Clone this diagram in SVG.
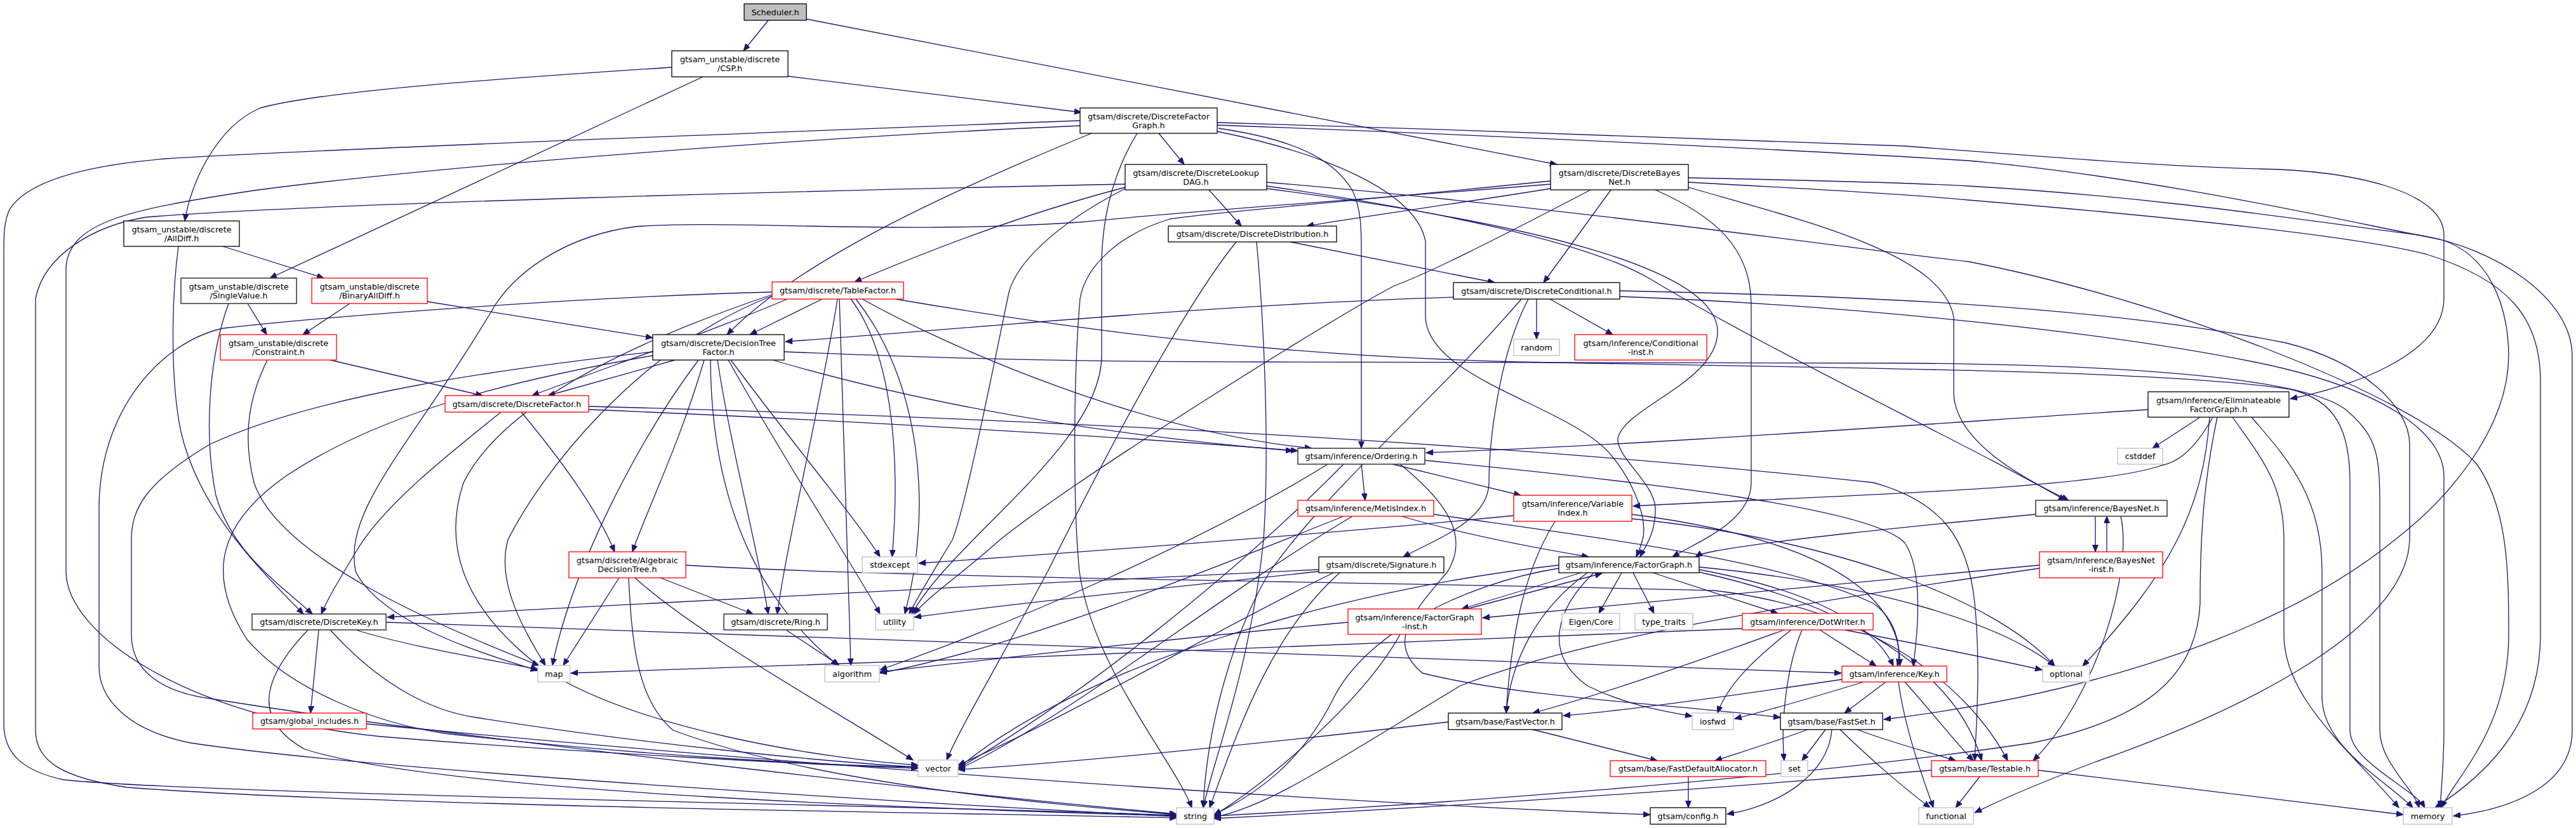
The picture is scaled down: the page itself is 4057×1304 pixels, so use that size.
<svg xmlns="http://www.w3.org/2000/svg" width="4057" height="1304" viewBox="0 0 4057 1304">
<style>
.e{fill:none;stroke:#191970;stroke-width:1.3;marker-end:url(#a)}
rect{fill:#fff;stroke:#000;stroke-width:1.3}
.r rect{stroke:#ff0000}
.g rect{stroke:#bfbfbf}
.d rect{stroke:#404040;stroke-width:1.6}
.s rect{fill:#bfbfbf}
text{font-family:"DejaVu Sans",sans-serif;font-size:12.8px;text-anchor:middle;fill:#000}
</style>
<defs>
<marker id="a" markerUnits="userSpaceOnUse" markerWidth="12" markerHeight="10" refX="11" refY="4.5" orient="auto" viewBox="0 0 12 10">
<path d="M0,0 L11,4.5 L0,9 z" fill="#191970" stroke="#191970" stroke-width="1"/>
</marker>
</defs>
<rect x="0" y="0" width="4057" height="1304" style="fill:#fff;stroke:none"/>
<g id="edges">
<path class="e" d="M1210,32 L1171,80"/>
<path class="e" d="M1270,30 L2452,259"/>
<path class="e" d="M1058,106 C850,120 520,140 410,170 C340,200 300,290 291,348"/>
<path class="e" d="M1107,121 L425,438"/>
<path class="e" d="M1241,120 L1703,177"/>
<path class="e" d="M351,388 L510,438"/>
<path class="e" d="M281,388 C270,470 268,600 285,680 C310,790 390,880 478,967"/>
<path class="e" d="M390,478 L420,527"/>
<path class="e" d="M360,478 C330,560 320,680 340,780 C365,870 440,920 492,967"/>
<path class="e" d="M551,478 L477,527"/>
<path class="e" d="M673,475 L1028,532"/>
<path class="e" d="M520,567 L760,623"/>
<path class="e" d="M421,567 C395,620 380,680 400,760 C440,880 700,990 849,1048"/>
<path class="e" d="M789,649 C700,720 600,800 560,870 C530,920 515,945 506,967"/>
<path class="e" d="M821,649 C880,720 940,800 968,869"/>
<path class="e" d="M927,645 C1300,660 1800,690 2044,710"/>
<path class="e" d="M927,640 C1500,655 2300,690 2950,760 C3060,790 3100,850 3110,950 C3120,1050 3112,1150 3110,1198"/>
<path class="e" d="M1825,210 L1865,259"/>
<path class="e" d="M1719,210 C1450,320 1250,420 1145,527"/>
<path class="e" d="M1919,202 C2040,220 2100,250 2130,300 C2144,330 2144,360 2144,400 L2144,706"/>
<path class="e" d="M1917,207 C2080,240 2230,300 2245,380 L2245,500 C2250,600 2480,640 2540,720 C2580,770 2592,820 2588,845 C2585,860 2580,870 2577,877"/>
<path class="e" d="M1917,193 C2300,205 2800,220 3000,230 C3200,245 3400,262 3560,266 C3700,268 3849,300 3849,370 L3849,470 C3849,560 3700,610 3607,628"/>
<path class="e" d="M1917,197 C2400,215 2900,240 3100,253 C3400,280 3700,350 3843,377 C3920,400 3950,480 3951,560 C3950,680 3850,790 3772,850 C3650,950 3400,1080 2967,1133"/>
<path class="e" d="M1701,190 C1300,205 500,235 260,250 C120,262 40,290 15,330 C6,350 6,370 6,400 L6,1140 C6,1190 40,1215 100,1228 C300,1250 1500,1270 1853,1284"/>
<path class="e" d="M1701,198 C1300,215 700,260 400,300 C200,330 110,350 104,420 L104,900 C104,1000 300,1130 600,1160 C900,1185 1300,1205 1446,1210"/>
<path class="e" d="M1791,210 C1760,260 1735,330 1735,420 L1735,560 C1735,700 1500,850 1436,967"/>
<path class="e" d="M1904,299 L1955,356"/>
<path class="e" d="M1772,295 C1600,340 1450,400 1346,444"/>
<path class="e" d="M1772,290 C1300,300 500,320 230,342 C150,355 70,400 56,470 L56,1150 C56,1200 100,1225 200,1240 C600,1270 1500,1280 1853,1288"/>
<path class="e" d="M1772,297 C1650,360 1600,420 1589,460 C1560,600 1520,800 1500,850 C1470,900 1445,940 1432,967"/>
<path class="e" d="M1995,293 C2250,330 2500,380 2600,440 C2800,560 3100,700 3253,788"/>
<path class="e" d="M1995,297 C2400,350 2700,420 2705,520 C2708,600 2560,640 2548,690 C2545,720 2605,760 2607,800 C2608,840 2590,862 2583,877"/>
<path class="e" d="M1995,287 C2500,330 2900,390 3100,412 C3400,470 3800,620 3900,730 C3950,800 3951,900 3951,1000 C3950,1150 3870,1220 3845,1272"/>
<path class="e" d="M2442,297 C2300,320 2150,340 2058,356"/>
<path class="e" d="M2537,299 L2431,445"/>
<path class="e" d="M2659,295 C2850,350 3060,400 3077,500 L3077,620 C3080,700 3200,760 3258,788"/>
<path class="e" d="M2607,299 C2700,340 2758,390 2758,480 L2758,760 C2758,820 2680,850 2634,877"/>
<path class="e" d="M2505,299 C2350,380 2250,430 2196,450 C2100,500 1700,750 1575,850 C1520,900 1460,940 1440,967"/>
<path class="e" d="M2442,290 C2200,310 1900,330 1700,350 C1400,370 1150,345 1000,357 C900,370 820,420 780,480 C650,700 540,800 560,900 C600,980 760,1030 847,1056"/>
<path class="e" d="M2442,285 C2100,320 1900,335 1842,345 C1760,370 1710,420 1701,470 C1690,600 1690,800 1700,900 C1720,1050 1850,1200 1877,1272"/>
<path class="e" d="M2659,280 C2900,285 3050,290 3100,293 C3400,310 3650,350 3809,370 C3930,390 4051,470 4051,560 L4051,1150 C4051,1240 3950,1275 3864,1285"/>
<path class="e" d="M2659,287 C2900,300 3050,310 3100,315 C3400,340 3700,370 3820,400 C3950,440 4001,500 4001,600 L4001,1000 C4001,1150 3900,1230 3835,1272"/>
<path class="e" d="M2289,468 C1900,480 1500,520 1237,538"/>
<path class="e" d="M2420,471 L2420,534"/>
<path class="e" d="M2441,471 L2540,527"/>
<path class="e" d="M2407,471 C2360,560 2345,700 2345,760 C2345,820 2260,850 2210,877"/>
<path class="e" d="M2396,471 C2250,640 2100,760 2000,900 C1940,1000 1900,1150 1895,1272"/>
<path class="e" d="M2551,467 C2900,480 3300,520 3550,570 C3750,610 3849,680 3849,750 L3849,1150 C3849,1200 3845,1240 3843,1272"/>
<path class="e" d="M2551,458 C2900,465 3300,480 3600,540 C3720,570 3795,640 3795,700 L3795,850 C3790,1000 3500,1130 3300,1200 C3220,1230 3150,1260 3110,1280"/>
<path class="e" d="M3383,645 C3000,670 2600,700 2246,713"/>
<path class="e" d="M3465,657 L3390,706"/>
<path class="e" d="M3485,657 C3450,720 3420,730 3404,733 C3300,770 2900,780 2572,797"/>
<path class="e" d="M3480,657 C3470,800 3420,900 3280,1049"/>
<path class="e" d="M3516,657 C3560,720 3597,760 3597,850 L3597,1000 C3597,1100 3700,1180 3778,1272"/>
<path class="e" d="M3546,657 C3600,720 3657,780 3657,900 L3657,1100 C3660,1180 3760,1230 3800,1272"/>
<path class="e" d="M3492,657 C3470,760 3465,850 3465,950 C3460,1050 3400,1130 3200,1170 C2800,1230 2200,1270 1912,1285"/>
<path class="e" d="M2144,731 L2150,788"/>
<path class="e" d="M2193,731 L2395,780"/>
<path class="e" d="M2205,731 C2290,800 2310,850 2280,900 C2230,960 2180,1010 2240,1060 C2400,1100 2650,1110 2804,1130"/>
<path class="e" d="M2244,725 C2600,760 2950,800 3000,855 C3030,900 3020,1000 3013,1049"/>
<path class="e" d="M2091,731 C1900,850 1600,980 1386,1055"/>
<path class="e" d="M2116,731 C1950,900 1700,1100 1509,1210"/>
<path class="e" d="M2207,813 C2300,840 2400,860 2502,877"/>
<path class="e" d="M2116,813 C1900,900 1600,1020 1386,1060"/>
<path class="e" d="M2130,813 C1900,950 1700,1120 1509,1212"/>
<path class="e" d="M2258,810 C2500,845 2800,880 2950,950 C2985,975 2992,1010 2992,1049"/>
<path class="e" d="M2384,812 C2100,840 1700,870 1447,887"/>
<path class="e" d="M2449,821 C2400,900 2380,1000 2372,1123"/>
<path class="e" d="M2570,810 C2800,840 2950,900 2985,1000 C2992,1020 2992,1035 2988,1049"/>
<path class="e" d="M2570,817 C2900,850 3150,950 3236,1049"/>
<path class="e" d="M3300,813 L3300,869"/>
<path class="e" d="M3318,869 L3318,813"/>
<path class="e" d="M3206,810 C3000,830 2800,850 2700,868 C2685,871 2675,874 2670,877"/>
<path class="e" d="M3340,813 C3360,900 3300,1100 3202,1198"/>
<path class="e" d="M3212,890 C2900,920 2600,950 2335,973"/>
<path class="e" d="M3212,895 C2900,940 2500,1000 2300,1080 C2100,1200 2000,1270 1912,1287"/>
<path class="e" d="M2490,902 L2302,959"/>
<path class="e" d="M2310,959 L2523,903"/>
<path class="e" d="M2554,902 L2518,966"/>
<path class="e" d="M2572,902 L2605,966"/>
<path class="e" d="M2603,902 L2800,966"/>
<path class="e" d="M2676,897 C2850,930 2950,980 2982,1049"/>
<path class="e" d="M2500,902 C2420,960 2380,1040 2372,1123"/>
<path class="e" d="M2510,902 C2450,960 2430,1030 2500,1080 C2560,1110 2620,1120 2665,1128"/>
<path class="e" d="M2676,901 C2900,950 3080,1050 3121,1198"/>
<path class="e" d="M2455,895 C2300,920 2150,1000 2100,1100 C2050,1200 1980,1250 1912,1283"/>
<path class="e" d="M2455,890 C2100,930 1700,1050 1509,1210"/>
<path class="e" d="M2676,893 C2950,920 3150,980 3236,1049"/>
<path class="e" d="M2123,980 C1800,1010 1550,1040 1386,1058"/>
<path class="e" d="M2205,999 C2150,1100 2000,1230 1912,1284"/>
<path class="e" d="M2077,897 C1600,920 1000,950 610,972"/>
<path class="e" d="M2110,902 C2000,1000 1950,1150 1905,1272"/>
<path class="e" d="M2100,902 C1900,1000 1700,1120 1509,1205"/>
<path class="e" d="M2077,900 C1800,930 1600,950 1440,972"/>
<path class="e" d="M2866,992 L2955,1049"/>
<path class="e" d="M2810,992 C2650,1050 2500,1100 2414,1123"/>
<path class="e" d="M2821,992 C2760,1040 2720,1080 2705,1123"/>
<path class="e" d="M2838,992 C2810,1060 2805,1150 2810,1198"/>
<path class="e" d="M2905,992 C3050,1020 3150,1040 3216,1055"/>
<path class="e" d="M2744,990 C2300,1010 1500,1040 899,1060"/>
<path class="e" d="M2901,1070 C2700,1100 2550,1120 2462,1127"/>
<path class="e" d="M2970,1074 L2905,1123"/>
<path class="e" d="M2935,1074 C2850,1100 2780,1120 2732,1132"/>
<path class="e" d="M3000,1074 C3050,1130 3080,1170 3108,1198"/>
<path class="e" d="M2990,1074 C3000,1150 3030,1230 3045,1272"/>
<path class="e" d="M2847,1149 C2790,1170 2740,1185 2701,1198"/>
<path class="e" d="M2875,1149 L2838,1198"/>
<path class="e" d="M2885,1149 C2880,1220 2800,1270 2720,1282"/>
<path class="e" d="M2898,1149 C2950,1200 3010,1250 3040,1272"/>
<path class="e" d="M2925,1149 C2980,1170 3040,1185 3080,1198"/>
<path class="e" d="M2414,1149 L2610,1198"/>
<path class="e" d="M2281,1137 C2000,1170 1700,1200 1509,1212"/>
<path class="e" d="M2659,1223 L2659,1272"/>
<path class="e" d="M3210,1213 C3500,1250 3650,1265 3785,1283"/>
<path class="e" d="M3118,1223 L3080,1272"/>
<path class="e" d="M3042,1213 C2600,1250 2200,1275 1912,1289"/>
<path class="e" d="M577,1140 C1200,1200 2000,1260 2599,1283"/>
<path class="e" d="M502,992 L489,1123"/>
<path class="e" d="M560,992 C650,1020 780,1040 847,1054"/>
<path class="e" d="M608,980 C1200,1000 2300,1040 2900,1060"/>
<path class="e" d="M520,992 C600,1080 680,1120 750,1130 C1000,1170 1300,1200 1446,1208"/>
<path class="e" d="M485,992 C420,1060 390,1130 480,1180 C700,1250 1500,1275 1853,1285"/>
<path class="e" d="M1238,992 L1322,1048"/>
<path class="e" d="M1040,910 L1186,967"/>
<path class="e" d="M975,910 L887,1048"/>
<path class="e" d="M1000,910 C1100,1000 1300,1110 1438,1197"/>
<path class="e" d="M990,910 C995,1000 1000,1100 1060,1150 C1300,1240 1700,1270 1853,1283"/>
<path class="e" d="M1080,890 C1400,910 2100,915 2700,930 C2950,960 3100,1080 3162,1198"/>
<path class="e" d="M1063,567 L863,623"/>
<path class="e" d="M1109,567 C1070,700 1020,800 996,869"/>
<path class="e" d="M1130,567 C1150,700 1190,850 1210,967"/>
<path class="e" d="M1217,567 C1500,650 1800,690 2036,710"/>
<path class="e" d="M1119,567 C1120,800 1200,950 1320,1048"/>
<path class="e" d="M1100,567 C1000,700 900,900 870,1048"/>
<path class="e" d="M1235,554 C1500,565 1700,570 2000,570 L3000,572 C3400,575 3650,600 3700,650 C3745,690 3748,720 3748,800 L3748,1150 C3748,1200 3800,1240 3810,1272"/>
<path class="e" d="M1151,567 C1250,700 1350,820 1386,877"/>
<path class="e" d="M1147,567 C1250,750 1350,900 1386,967"/>
<path class="e" d="M1028,554 C800,580 500,620 330,700 C230,760 207,800 207,850 L207,1000 C207,1060 260,1090 330,1100 C700,1160 1500,1250 1853,1282"/>
<path class="e" d="M1028,560 C800,600 600,650 450,750 C350,820 320,900 389,1007 C460,1090 600,1140 700,1155 C1000,1190 1300,1205 1446,1208"/>
<path class="e" d="M1295,471 L1181,527"/>
<path class="e" d="M1240,471 C1100,530 950,580 838,623"/>
<path class="e" d="M1358,471 C1500,550 1800,680 2066,706"/>
<path class="e" d="M1319,471 C1290,650 1240,850 1224,967"/>
<path class="e" d="M1322,471 C1330,700 1335,900 1340,1048"/>
<path class="e" d="M1340,471 C1400,550 1420,700 1405,877"/>
<path class="e" d="M1348,471 C1450,600 1470,800 1425,967"/>
<path class="e" d="M1410,471 C1700,520 2000,560 2393,570 C2900,580 3400,582 3607,613 C3680,630 3701,680 3701,760 L3701,1150 C3701,1200 3800,1240 3819,1272"/>
<path class="e" d="M1216,466 C1000,550 850,750 800,850 C780,920 830,1000 859,1048"/>
<path class="e" d="M1216,464 C1050,520 800,620 730,760 C700,850 720,950 850,1050 C1000,1150 1300,1195 1446,1205"/>
<path class="e" d="M1216,460 C900,468 500,500 351,517 C250,540 156,650 156,800 L156,1050 C156,1100 200,1150 300,1170 C600,1215 1500,1268 1853,1286"/>
<path class="e" d="M2032,381 L2354,445"/>
<path class="e" d="M1947,381 C1850,500 1700,800 1650,900 C1570,1050 1510,1150 1491,1197"/>
<path class="e" d="M1979,381 C1990,500 2000,700 1990,850 C1970,1050 1910,1200 1895,1272"/>
</g>
<g id="n_scheduler" class="s"><rect x="1172" y="6" width="98" height="26"/><text x="1221" y="23.5">Scheduler.h</text></g>
<g id="n_csp"><rect x="1058" y="80" width="183" height="41"/><text x="1149.5" y="97.5">gtsam_unstable/discrete</text><text x="1149.5" y="111.5">/CSP.h</text></g>
<g id="n_dfg"><rect x="1701" y="170" width="216" height="40"/><text x="1809" y="187.5">gtsam/discrete/DiscreteFactor</text><text x="1809" y="201.5">Graph.h</text></g>
<g id="n_dbn"><rect x="2442" y="259" width="217" height="40"/><text x="2550.5" y="276.5">gtsam/discrete/DiscreteBayes</text><text x="2550.5" y="290.5">Net.h</text></g>
<g id="n_dldag"><rect x="1772" y="259" width="223" height="40"/><text x="1883.5" y="276.5">gtsam/discrete/DiscreteLookup</text><text x="1883.5" y="290.5">DAG.h</text></g>
<g id="n_alldiff"><rect x="195" y="348" width="182" height="40"/><text x="286" y="365.5">gtsam_unstable/discrete</text><text x="286" y="379.5">/AllDiff.h</text></g>
<g id="n_dd"><rect x="1840" y="356" width="265" height="25"/><text x="1972.5" y="373">gtsam/discrete/DiscreteDistribution.h</text></g>
<g id="n_singlevalue" class="d"><rect x="285" y="438" width="182" height="40"/><text x="376" y="455.5">gtsam_unstable/discrete</text><text x="376" y="469.5">/SingleValue.h</text></g>
<g id="n_binaryalldiff" class="r"><rect x="491" y="438" width="182" height="40"/><text x="582" y="455.5">gtsam_unstable/discrete</text><text x="582" y="469.5">/BinaryAllDiff.h</text></g>
<g id="n_tablefactor" class="r"><rect x="1216" y="444" width="207" height="27"/><text x="1319.5" y="462">gtsam/discrete/TableFactor.h</text></g>
<g id="n_dc"><rect x="2289" y="445" width="262" height="26"/><text x="2420" y="462.5">gtsam/discrete/DiscreteConditional.h</text></g>
<g id="n_constraint" class="r"><rect x="347" y="527" width="183" height="40"/><text x="438.5" y="544.5">gtsam_unstable/discrete</text><text x="438.5" y="558.5">/Constraint.h</text></g>
<g id="n_dtf"><rect x="1028" y="527" width="207" height="40"/><text x="1131.5" y="544.5">gtsam/discrete/DecisionTree</text><text x="1131.5" y="558.5">Factor.h</text></g>
<g id="n_random" class="g"><rect x="2384" y="534" width="72" height="26"/><text x="2420" y="551.5">random</text></g>
<g id="n_condinst" class="r"><rect x="2480" y="527" width="208" height="40"/><text x="2584" y="544.5">gtsam/inference/Conditional</text><text x="2584" y="558.5">-inst.h</text></g>
<g id="n_efg"><rect x="3383" y="617" width="222" height="40"/><text x="3494" y="634.5">gtsam/inference/Eliminateable</text><text x="3494" y="648.5">FactorGraph.h</text></g>
<g id="n_df" class="r"><rect x="701" y="623" width="226" height="26"/><text x="814" y="640.5">gtsam/discrete/DiscreteFactor.h</text></g>
<g id="n_ordering" class="d"><rect x="2044" y="706" width="200" height="25"/><text x="2144" y="723">gtsam/inference/Ordering.h</text></g>
<g id="n_cstddef" class="g"><rect x="3335" y="706" width="71" height="25"/><text x="3370.5" y="723">cstddef</text></g>
<g id="n_metis" class="r"><rect x="2044" y="788" width="214" height="25"/><text x="2151" y="805">gtsam/inference/MetisIndex.h</text></g>
<g id="n_vi" class="r"><rect x="2384" y="780" width="186" height="41"/><text x="2477" y="797.5">gtsam/inference/Variable</text><text x="2477" y="811.5">Index.h</text></g>
<g id="n_bayesnet" class="d"><rect x="3206" y="788" width="207" height="25"/><text x="3309.5" y="805">gtsam/inference/BayesNet.h</text></g>
<g id="n_adt" class="r"><rect x="896" y="869" width="184" height="41"/><text x="988" y="886.5">gtsam/discrete/Algebraic</text><text x="988" y="900.5">DecisionTree.h</text></g>
<g id="n_bninst" class="r"><rect x="3212" y="869" width="194" height="41"/><text x="3309" y="886.5">gtsam/inference/BayesNet</text><text x="3309" y="900.5">-inst.h</text></g>
<g id="n_stdexcept" class="g"><rect x="1358" y="877" width="87" height="25"/><text x="1401.5" y="894">stdexcept</text></g>
<g id="n_signature"><rect x="2077" y="877" width="197" height="25"/><text x="2175.5" y="894">gtsam/discrete/Signature.h</text></g>
<g id="n_factorgraph"><rect x="2455" y="877" width="221" height="25"/><text x="2565.5" y="894">gtsam/inference/FactorGraph.h</text></g>
<g id="n_discretekey" class="d"><rect x="397" y="967" width="211" height="25"/><text x="502.5" y="984">gtsam/discrete/DiscreteKey.h</text></g>
<g id="n_ring" class="d"><rect x="1140" y="967" width="163" height="25"/><text x="1221.5" y="984">gtsam/discrete/Ring.h</text></g>
<g id="n_utility" class="g"><rect x="1379" y="967" width="60" height="25"/><text x="1409" y="984">utility</text></g>
<g id="n_fginst" class="r"><rect x="2123" y="959" width="210" height="40"/><text x="2228" y="976.5">gtsam/inference/FactorGraph</text><text x="2228" y="990.5">-inst.h</text></g>
<g id="n_eigencore" class="g"><rect x="2460" y="966" width="91" height="26"/><text x="2505.5" y="983.5">Eigen/Core</text></g>
<g id="n_typetraits" class="g"><rect x="2575" y="966" width="91" height="26"/><text x="2620.5" y="983.5">type_traits</text></g>
<g id="n_dotwriter" class="r"><rect x="2744" y="966" width="206" height="26"/><text x="2847" y="983.5">gtsam/inference/DotWriter.h</text></g>
<g id="n_map" class="g"><rect x="847" y="1048" width="51" height="26"/><text x="872.5" y="1065.5">map</text></g>
<g id="n_algorithm" class="g"><rect x="1299" y="1048" width="86" height="26"/><text x="1342" y="1065.5">algorithm</text></g>
<g id="n_key" class="r"><rect x="2901" y="1049" width="165" height="25"/><text x="2983.5" y="1066">gtsam/inference/Key.h</text></g>
<g id="n_optional" class="g"><rect x="3217" y="1049" width="74" height="25"/><text x="3254" y="1066">optional</text></g>
<g id="n_globalincludes" class="r"><rect x="398" y="1123" width="179" height="25"/><text x="487.5" y="1140">gtsam/global_includes.h</text></g>
<g id="n_fastvector"><rect x="2281" y="1123" width="179" height="26"/><text x="2370.5" y="1140.5">gtsam/base/FastVector.h</text></g>
<g id="n_iosfwd" class="g"><rect x="2665" y="1123" width="65" height="26"/><text x="2697.5" y="1140.5">iosfwd</text></g>
<g id="n_fastset"><rect x="2804" y="1123" width="161" height="26"/><text x="2884.5" y="1140.5">gtsam/base/FastSet.h</text></g>
<g id="n_vector" class="g"><rect x="1446" y="1197" width="63" height="26"/><text x="1477.5" y="1214.5">vector</text></g>
<g id="n_fda" class="r"><rect x="2536" y="1198" width="245" height="25"/><text x="2658.5" y="1215">gtsam/base/FastDefaultAllocator.h</text></g>
<g id="n_set" class="g"><rect x="2805" y="1198" width="42" height="25"/><text x="2826" y="1215">set</text></g>
<g id="n_testable" class="r"><rect x="3042" y="1198" width="168" height="25"/><text x="3126" y="1215">gtsam/base/Testable.h</text></g>
<g id="n_string" class="g"><rect x="1853" y="1272" width="59" height="26"/><text x="1882.5" y="1289.5">string</text></g>
<g id="n_config"><rect x="2599" y="1272" width="119" height="26"/><text x="2658.5" y="1289.5">gtsam/config.h</text></g>
<g id="n_functional" class="g"><rect x="3022" y="1272" width="86" height="26"/><text x="3065" y="1289.5">functional</text></g>
<g id="n_memory" class="g"><rect x="3785" y="1272" width="77" height="26"/><text x="3823.5" y="1289.5">memory</text></g>
</svg>
